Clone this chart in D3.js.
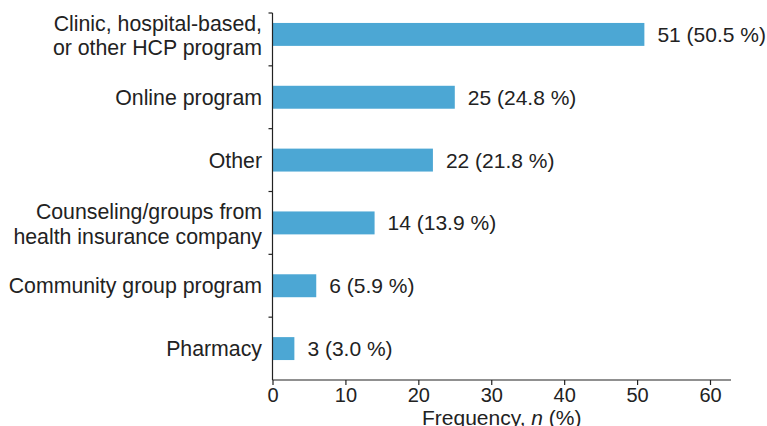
<!DOCTYPE html>
<html>
<head>
<meta charset="utf-8">
<script src="https://cdn.jsdelivr.net/npm/d3@7"></script>
<style>
  body { margin: 0; background: #fff; }
  text { font-family: "Liberation Sans", Arial, Helvetica, sans-serif; fill: #222; }
</style>
</head>
<body>
<svg id="chart" width="767" height="426"></svg>
<script>
// data
const categories = [
  ["Clinic, hospital-based,", "or other HCP program"],
  ["Online program"],
  ["Other"],
  ["Counseling/groups from", "health insurance company"],
  ["Community group program"],
  ["Pharmacy"]
];
const counts = [51, 25, 22, 14, 6, 3];
const percents = ["50.5", "24.8", "21.8", "13.9", "5.9", "3.0"];
const xTicks = [0, 10, 20, 30, 40, 50, 60];

const svg = d3.select("#chart");
const mLeft = 272.5, mRight = 731, mTop = 13, mBottom = 380;

const x = d3.scaleLinear().domain([0, 60]).range([mLeft, 710]);

const keys = categories.map((d, i) => i);
const pad = 0.635;
const y = d3.scaleBand()
  .domain(keys)
  .range([3, mBottom])
  .paddingInner(pad)
  .paddingOuter(pad / 2);

// bars
svg.selectAll(".bar")
  .data(counts)
  .join("rect")
  .attr("class", "bar")
  .attr("x", x(0))
  .attr("y", (d, i) => y(i))
  .attr("width", d => x(d) - x(0))
  .attr("height", y.bandwidth())
  .attr("fill", "#4ca7d4");

// value labels
svg.selectAll(".val")
  .data(counts)
  .join("text")
  .attr("class", "val")
  .attr("x", d => x(d) + 13)
  .attr("y", (d, i) => y(i) + y.bandwidth() / 2 + 7.5)
  .attr("font-size", 21)
  .text((d, i) => `${d} (${percents[i]} %)`);

// category labels
const cat = svg.selectAll(".cat")
  .data(categories)
  .join("text")
  .attr("class", "cat")
  .attr("text-anchor", "end")
  .attr("font-size", 21.3);
cat.each(function (lines, i) {
  const c = y(i) + y.bandwidth() / 2;
  const t = d3.select(this);
  if (lines.length === 1) {
    t.append("tspan").attr("x", 262).attr("y", c + 7.5).text(lines[0]);
  } else {
    lines.forEach((l, j) => {
      t.append("tspan").attr("x", 262).attr("y", c - 3.5 + j * 24.5).text(l);
    });
  }
});

// y axis: line with ticks at band boundaries
const axisG = svg.append("g").attr("stroke", "#222").attr("stroke-width", 1.2);
axisG.append("line")
  .attr("x1", mLeft).attr("x2", mLeft)
  .attr("y1", mTop).attr("y2", mBottom);
const bounds = [mTop].concat(keys.slice(1).map(i => y(i) - y.step() * pad / 2));
axisG.selectAll(".ytick")
  .data(bounds)
  .join("line")
  .attr("x1", mLeft - 4).attr("x2", mLeft)
  .attr("y1", d => d).attr("y2", d => d);

// x axis
const xAxis = svg.append("g")
  .attr("transform", `translate(0,${mBottom})`)
  .call(d3.axisBottom(x).tickValues(xTicks).tickSize(5).tickPadding(3).tickSizeOuter(0));
xAxis.select(".domain").attr("d", `M${mLeft},0H${mRight}`).attr("stroke", "#222").attr("stroke-width", 1.2);
xAxis.selectAll(".tick line").attr("stroke", "#222").attr("stroke-width", 1.2);
xAxis.selectAll(".tick text")
  .attr("font-size", 20)
  .attr("font-family", "Liberation Sans, Arial, sans-serif")
  .attr("fill", "#222");

// axis title (cut by the bottom edge, as in the source figure)
const title = svg.append("text")
  .attr("x", (mLeft + mRight) / 2)
  .attr("y", 425)
  .attr("text-anchor", "middle")
  .attr("font-size", 21);
title.append("tspan").text("Frequency, ");
title.append("tspan").attr("font-style", "italic").text("n");
title.append("tspan").text(" (%)");
</script>
</body>
</html>
